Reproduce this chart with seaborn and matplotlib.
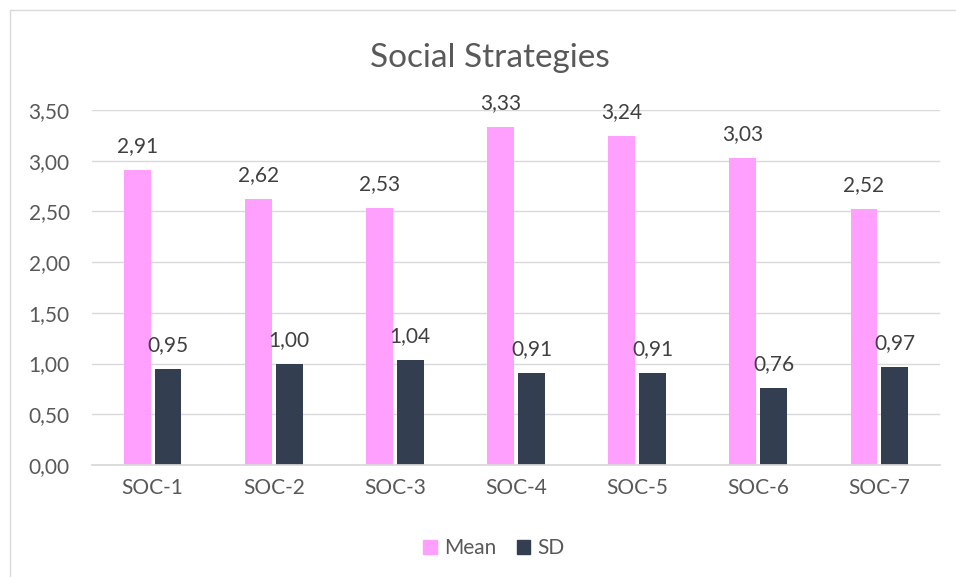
import matplotlib.pyplot as plt
import matplotlib.lines as mlines
import matplotlib.patches as mpatches
import numpy as np
import pandas as pd
import seaborn as sns

# data
items = ["SOC-1", "SOC-2", "SOC-3", "SOC-4", "SOC-5", "SOC-6", "SOC-7"]
mean_vals = [2.91, 2.62, 2.53, 3.33, 3.24, 3.03, 2.52]
sd_vals = [0.95, 1.00, 1.04, 0.91, 0.91, 0.76, 0.97]
series = ["Mean", "SD"]
yticks = [0.0, 0.5, 1.0, 1.5, 2.0, 2.5, 3.0, 3.5]

colors = {"Mean": "#FFA0FF", "SD": "#333F50"}
text_col = "#595959"

df = pd.DataFrame({
    "item": items * 2,
    "series": ["Mean"] * len(items) + ["SD"] * len(items),
    "value": mean_vals + sd_vals,
})

sns.set_theme(style="white")
plt.rcParams["font.family"] = ["Lato", "DejaVu Sans"]

fig = plt.figure(figsize=(9.56, 5.77), dpi=100)
ax = fig.add_axes([92 / 956, 1 - 465 / 577, (940 - 92) / 956, (465 - 110) / 577])

sns.barplot(data=df, x="item", y="value", hue="series", palette=colors,
            width=0.51, gap=0.13, ax=ax, legend=False, saturation=1, linewidth=0)

for cont in ax.containers:
    ax.bar_label(cont, labels=[f"{v:.2f}".replace(".", ",") for v in cont.datavalues],
                 padding=10, fontsize=15, color="#404040")

ax.set_ylim(0, 3.5)
ax.set_yticks(yticks)
ax.set_yticklabels([f"{t:.2f}".replace(".", ",") for t in yticks])
ax.yaxis.grid(True, color="#D9D9D9", linewidth=1)
ax.set_axisbelow(True)
for s in ["left", "right", "top"]:
    ax.spines[s].set_visible(False)
ax.spines["bottom"].set_color("#D9D9D9")
ax.tick_params(axis="y", labelsize=15, labelcolor=text_col, pad=16, length=0)
ax.tick_params(axis="x", labelsize=15, labelcolor=text_col, pad=9, length=0)
ax.set_xlabel("")
ax.set_ylabel("")

fig.text(490 / 956, 1 - 58 / 577, "Social Strategies", ha="center", va="center",
         fontsize=24, color=text_col)

handles = [mpatches.Patch(color=colors[s], label=s) for s in series]
fig.legend(handles=handles, loc="center", bbox_to_anchor=(494 / 956, 1 - 548 / 577),
           ncol=2, frameon=False, fontsize=15, handlelength=0.65, handleheight=0.65,
           columnspacing=1.0, handletextpad=0.35, labelcolor=text_col)

# chart border (left and top edges visible in the reference)
fig.add_artist(mlines.Line2D([10 / 956, 10 / 956], [0, 1 - 10 / 577], color="#D9D9D9", lw=1))
fig.add_artist(mlines.Line2D([10 / 956, 1], [1 - 10 / 577, 1 - 10 / 577], color="#D9D9D9", lw=1))

fig.savefig("out.png", dpi=100)
